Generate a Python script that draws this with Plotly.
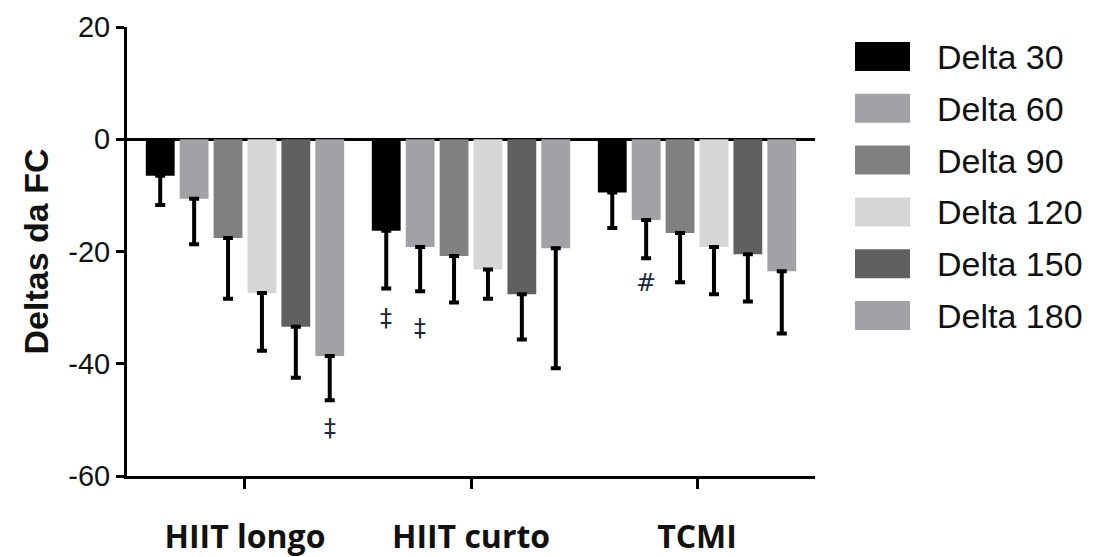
import plotly.graph_objects as go

groups = ["HIIT longo", "HIIT curto", "TCMI"]
series_names = ["Delta 30", "Delta 60", "Delta 90", "Delta 120", "Delta 150", "Delta 180"]
colors = ["#000000", "#a2a2a6", "#808080", "#d6d6d6", "#606060", "#a2a2a6"]

delta30 = [-6.5, -16.3, -9.5]
delta60 = [-10.6, -19.2, -14.4]
delta90 = [-17.6, -20.8, -16.7]
delta120 = [-27.4, -23.2, -19.2]
delta150 = [-33.4, -27.6, -20.5]
delta180 = [-38.6, -19.4, -23.5]

err30 = [5.2, 10.3, 6.3]
err60 = [8.1, 7.9, 6.8]
err90 = [10.8, 8.3, 8.8]
err120 = [10.3, 5.2, 8.4]
err150 = [9.1, 8.1, 8.4]
err180 = [7.9, 21.4, 11.1]

y_ticks = [-60, -40, -20, 0, 20]
y_ticktext = ["-60", "-40", "-20", "0", "20"]

values = [delta30, delta60, delta90, delta120, delta150, delta180]
errors = [err30, err60, err90, err120, err150, err180]

# significance marks: (group index, series index, y value, symbol)
marks = [(0, 5, -51.4, "‡"), (1, 0, -31.8, "‡"), (1, 1, -33.6, "‡"), (2, 1, -25.7, "#")]

# page body has an 8px margin, so the figure is offset by 8px in the screenshot
OFF = 8
W, H = 1096 - OFF, 557 - OFF
PLOT_L, PLOT_R, PLOT_T, PLOT_B = 127, 815, 27, 476  # target screen pixels
ML = PLOT_L - OFF
MT = PLOT_T - OFF
MR = W - (PLOT_R - OFF)
MB = H - (PLOT_B - OFF)
PW = PLOT_R - PLOT_L
PH = PLOT_B - PLOT_T

def xp(px):
    return (px - PLOT_L) / PW

def yp(py):
    return (PLOT_B - py) / PH

xs = list(range(len(groups)))
fig = go.Figure()
for name, col, vals, errs in zip(series_names, colors, values, errors):
    fig.add_trace(go.Bar(
        x=xs, y=vals, name=name, marker=dict(color=col, line=dict(width=0)),
        error_y=dict(type="data", symmetric=False, array=[0] * len(errs), arrayminus=errs,
                     color="#000000", thickness=4, width=5),
        showlegend=False,
    ))

bargap = 0.1
nser = len(series_names)
slot = (1 - bargap) / nser
annotations = []
for g, s, yv, sym in marks:
    xpos = g + (s - (nser - 1) / 2) * slot
    annotations.append(dict(x=xpos, y=yv, xref="x", yref="y", text=sym, showarrow=False,
                            font=dict(family="DejaVu Sans, Arial", size=24, color="#1a2a3a")))

# manual legend
shapes = []
for i, (name, col) in enumerate(zip(series_names, colors)):
    top = 42 + i * 51.8
    shapes.append(dict(type="rect", xref="paper", yref="paper",
                       x0=xp(855), x1=xp(910), y0=yp(top + 29), y1=yp(top),
                       fillcolor=col, line=dict(width=0)))
    annotations.append(dict(x=xp(935), y=yp(top + 15), xref="paper", yref="paper",
                            text=name, showarrow=False, xanchor="left", yanchor="middle",
                            font=dict(family="Arial, Liberation Sans", size=34, color="#111111")))

fig.update_layout(
    width=W, height=H,
    margin=dict(l=ML, r=MR, t=MT, b=MB, autoexpand=False),
    paper_bgcolor="white", plot_bgcolor="white",
    barmode="group", bargap=bargap, bargroupgap=0.15,
    showlegend=False,
    shapes=shapes, annotations=annotations,
    font=dict(family="Arial, Liberation Sans", color="#111111"),
)
fig.update_xaxes(
    range=[-0.522, 2.522], tickvals=xs, ticktext=groups,
    showline=True, linecolor="black", linewidth=3, mirror=False,
    ticks="outside", ticklen=10, tickwidth=3, tickcolor="black",
    showgrid=False, zeroline=False, automargin=False,
    tickfont=dict(family="Open Sans", size=32, color="#111111", weight="bold"),
    ticklabelstandoff=21,
)
fig.update_yaxes(
    range=[-60, 20], tickvals=y_ticks, ticktext=y_ticktext,
    showline=True, linecolor="black", linewidth=3,
    ticks="outside", ticklen=8, tickwidth=3, tickcolor="black",
    showgrid=False, zeroline=True, zerolinecolor="black", zerolinewidth=3,
    automargin=False,
    tickfont=dict(family="Arial, Liberation Sans", size=29, color="#111111"),
    title=dict(text="<b>Deltas da FC</b>", font=dict(family="Arial, Liberation Sans", size=34, color="#111111"), standoff=10),
)

fig.write_html("out.html")
